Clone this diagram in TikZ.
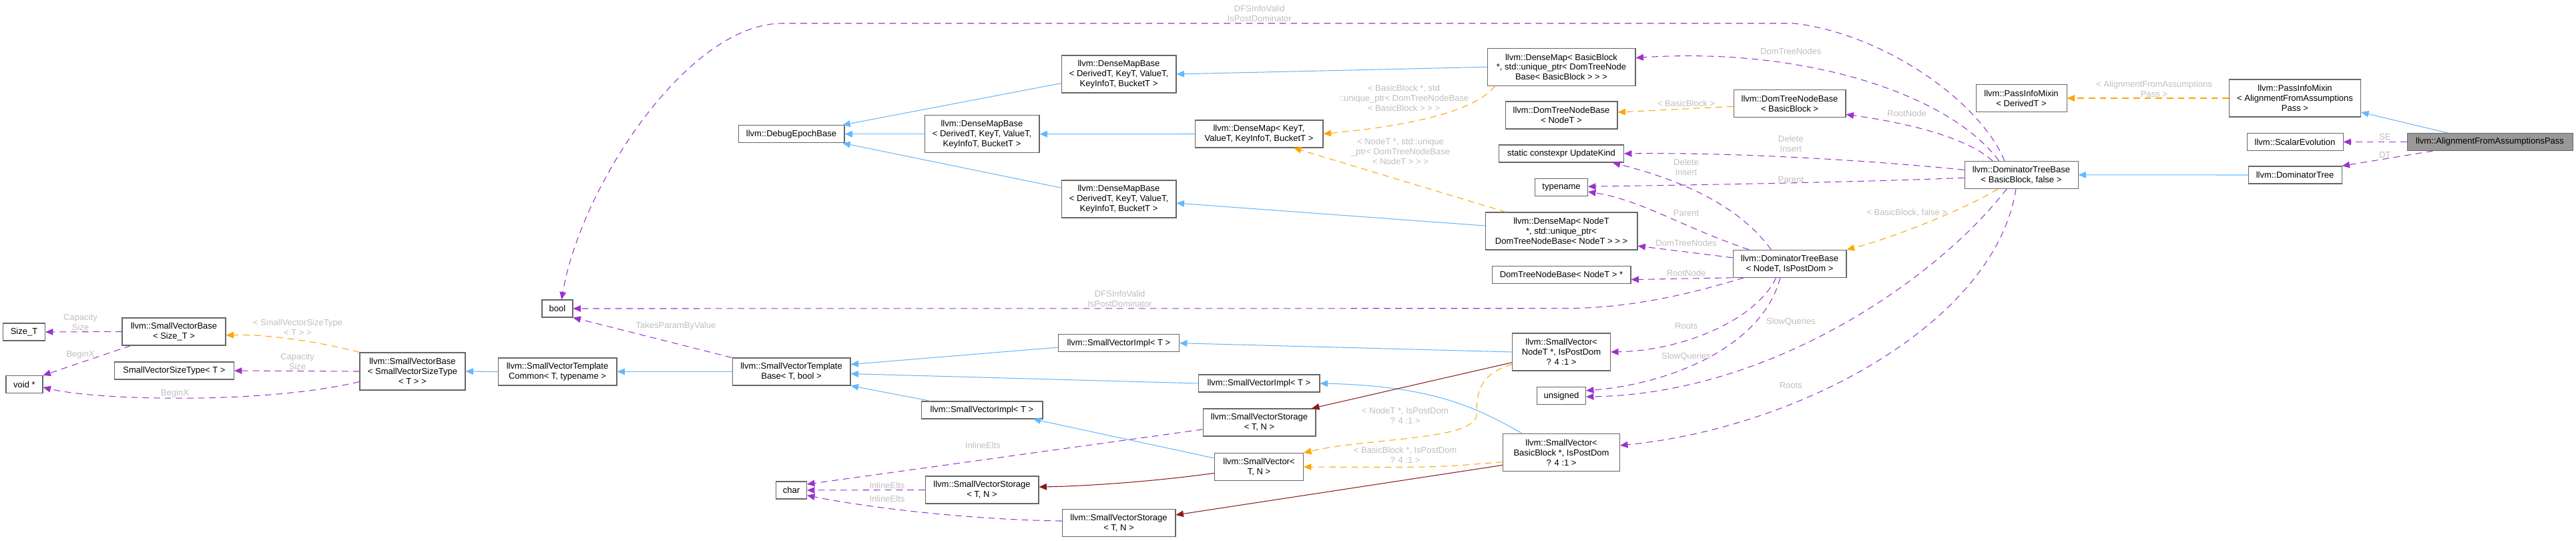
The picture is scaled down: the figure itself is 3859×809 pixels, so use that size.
\documentclass[tikz,border=0pt]{standalone}
\usepackage{fontspec}
\setmainfont{Liberation Sans}
\usetikzlibrary{arrows.meta}

\definecolor{dxinh}{HTML}{63B8FF}
\definecolor{dxpriv}{HTML}{8B1A1A}
\definecolor{dxtmpl}{HTML}{FFA500}
\definecolor{dxuse}{HTML}{9A32CD}
\definecolor{dxedge}{HTML}{666666}
\definecolor{dxlabel}{HTML}{BEBEBE}
\definecolor{dxcur}{HTML}{999999}

\begin{document}
\begin{tikzpicture}[
  x=0.02cm, y=-0.02cm,
  font=\fontsize{7.4}{8.5}\selectfont,
  cls/.style={draw=dxedge, line width=0.6pt, fill=white, inner sep=0pt, align=center},
  cur/.style={cls, fill=dxcur},
  h1/.style={minimum height=0.52cm},
  h2/.style={minimum height=0.82cm},
  h3/.style={minimum height=1.12cm},
  tip/.style={-{Triangle[length=6.5pt,width=5.5pt]}},
  inh/.style={tip, draw=dxinh, line width=0.6pt},
  priv/.style={tip, draw=dxpriv, line width=0.6pt},
  tmpl/.style={tip, draw=dxtmpl, line width=0.6pt, dash pattern=on 5.5pt off 4pt},
  use/.style={tip, draw=dxuse, line width=0.6pt, dash pattern=on 5.5pt off 4pt},
  lbl/.style={text=dxlabel, align=center, inner sep=0pt},
]
  \useasboundingbox (0,0) rectangle (3859,809);

  % small vector base side
  \node[cls, h1, minimum width=1.26cm] (sizet) at (36,497) {Size\_T};
  \node[cls, h1, minimum width=1.10cm] (voidp) at (36.5,575.5) {void *};
  \node[cls, h2, minimum width=3.10cm] (svbsize) at (260.5,496.5) {llvm::SmallVectorBase\\< Size\_T >};
  \node[cls, h1, minimum width=3.58cm] (svstype) at (261,555) {SmallVectorSizeType< T >};
  \node[cls, h3, minimum width=3.16cm] (svbsvst) at (618,556) {llvm::SmallVectorBase\\< SmallVectorSizeType\\< T > >};
  \node[cls, h2, minimum width=3.56cm] (svtc) at (835,556.5) {llvm::SmallVectorTemplate\\Common< T, typename >};
  \node[cls, h1, minimum width=0.92cm] (boolt) at (835,462) {bool};
  \node[cls, h2, minimum width=3.54cm] (svtb) at (1185.5,556.5) {llvm::SmallVectorTemplate\\Base< T, bool >};
  \node[cls, h1, minimum width=0.92cm] (chart) at (1185.5,734) {char};
  \node[cls, h1, minimum width=3.18cm] (debug) at (1185.5,200.7) {llvm::DebugEpochBase};

  % dense maps and small vectors
  \node[cls, h3, minimum width=3.44cm] (dmbtop) at (1676,111) {llvm::DenseMapBase\\< DerivedT, KeyT, ValueT,\\KeyInfoT, BucketT >};
  \node[cls, h3, minimum width=3.44cm] (dmbmid) at (1471,200.7) {llvm::DenseMapBase\\< DerivedT, KeyT, ValueT,\\KeyInfoT, BucketT >};
  \node[cls, h3, minimum width=3.44cm] (dmbbot) at (1676,298) {llvm::DenseMapBase\\< DerivedT, KeyT, ValueT,\\KeyInfoT, BucketT >};
  \node[cls, h2, minimum width=3.84cm] (dmkey) at (1886,200.5) {llvm::DenseMap< KeyT,\\ValueT, KeyInfoT, BucketT >};
  \node[cls, h1, minimum width=3.62cm] (svimtop) at (1676,513.7) {llvm::SmallVectorImpl< T >};
  \node[cls, h1, minimum width=3.64cm] (svimmid) at (1886,574) {llvm::SmallVectorImpl< T >};
  \node[cls, h1, minimum width=3.64cm] (svimlow) at (1471,614) {llvm::SmallVectorImpl< T >};
  \node[cls, h2, minimum width=3.38cm] (svstmid) at (1886.5,632.5) {llvm::SmallVectorStorage\\< T, N >};
  \node[cls, h2, minimum width=2.66cm] (svtn) at (1886,699) {llvm::SmallVector<\\T, N >};
  \node[cls, h2, minimum width=3.40cm] (svstlow) at (1471,733.5) {llvm::SmallVectorStorage\\< T, N >};
  \node[cls, h2, minimum width=3.40cm] (svstbot) at (1676,783) {llvm::SmallVectorStorage\\< T, N >};

  % dominator tree members
  \node[cls, h3, minimum width=4.44cm] (dmbb) at (2339,100.3) {llvm::DenseMap< BasicBlock\\ *, std::unique\_ptr< DomTreeNode\\Base< BasicBlock > > >};
  \node[cls, h2, minimum width=3.36cm] (dtnnode) at (2339,172.5) {llvm::DomTreeNodeBase\\< NodeT >};
  \node[cls, h1, minimum width=3.74cm] (upkind) at (2339,230) {static constexpr UpdateKind};
  \node[cls, h1, minimum width=1.58cm] (typen) at (2339,280.7) {typename};
  \node[cls, h3, minimum width=4.56cm] (dmnode) at (2339,346) {llvm::DenseMap< NodeT\\ *, std::unique\_ptr<\\DomTreeNodeBase< NodeT > > >};
  \node[cls, h1, minimum width=4.16cm] (dtnptr) at (2339,411.3) {DomTreeNodeBase< NodeT > *};
  \node[cls, h3, minimum width=2.94cm] (svnode) at (2339,527) {llvm::SmallVector<\\NodeT *, IsPostDom\\? 4 :1 >};
  \node[cls, h1, minimum width=1.46cm] (unsgn) at (2339,592.7) {unsigned};
  \node[cls, h3, minimum width=3.50cm] (svbb) at (2339,677.7) {llvm::SmallVector<\\BasicBlock *, IsPostDom\\? 4 :1 >};
  \node[cls, h2, minimum width=3.36cm] (dtnbb) at (2681,155) {llvm::DomTreeNodeBase\\< BasicBlock >};
  \node[cls, h2, minimum width=3.40cm] (dtbnode) at (2681,394.8) {llvm::DominatorTreeBase\\< NodeT, IsPostDom >};

  % the pass
  \node[cls, h2, minimum width=3.40cm] (dtbbb) at (3028,261.8) {llvm::DominatorTreeBase\\< BasicBlock, false >};
  \node[cls, h2, minimum width=2.72cm] (pimd) at (3028,147) {llvm::PassInfoMixin\\< DerivedT >};
  \node[cls, h3, minimum width=3.94cm] (pimafap) at (3438,147) {llvm::PassInfoMixin\\< AlignmentFromAssumptions\\Pass >};
  \node[cls, h1, minimum width=2.88cm] (scev) at (3438,212.5) {llvm::ScalarEvolution};
  \node[cls, h1, minimum width=2.80cm] (domtree) at (3438,262) {llvm::DominatorTree};
  \node[cur, h1, minimum width=4.96cm] (afap) at (3730,212.5) {llvm::AlignmentFromAssumptionsPass};

  % inheritance
  \draw[inh] (afap.168) -- (pimafap.-12);
  \draw[inh] (domtree.west) -- (dtbbb.east);
  \draw[inh] (dmbb.west) -- (dmbtop.east);
  \draw[inh] (dmkey.west) -- (dmbmid.east);
  \draw[inh] (dmnode.176) -- (dmbbot.-4);
  \draw[inh] (dmbtop.189) -- (debug.10);
  \draw[inh] (dmbmid.west) -- (debug.east);
  \draw[inh] (dmbbot.169) -- (debug.-10);
  \draw[inh] (svnode.west) -- (svimtop.east);
  \draw[inh] (svbb.154) .. controls (2215,612) and (2150,578) .. (svimmid.east);
  \draw[inh] (svtn.169) -- (svimlow.-10);
  \draw[inh] (svimtop.184) -- (svtb.7);
  \draw[inh] (svimmid.west) -- (svtb.-2);
  \draw[inh] (svimlow.170) -- (svtb.south east);
  \draw[inh] (svtb.west) -- (svtc.east);
  \draw[inh] (svtc.west) -- (svbsvst.east);

  % storage
  \draw[priv] (svnode.192) -- (svstmid.15);
  \draw[priv] (svtn.188) .. controls (1720,722) and (1620,728) .. (svstlow.3);
  \draw[priv] (svbb.192) -- (svstbot.8);

  % template instances
  \draw[tmpl] (pimafap.west) -- (pimd.east);
  \draw[tmpl] (dtbbb.211) .. controls (2950,310) and (2840,355) .. (dtbnode.north east);
  \draw[tmpl] (dtnbb.183) -- (dtnnode.3);
  \draw[tmpl] (dmbb.196) .. controls (2205,172) and (2090,190) .. (dmkey.east);
  \draw[tmpl] (dmnode.161) -- (dmkey.-22);
  \draw[tmpl] (svnode.194) .. controls (2215,560) and (2212,590) .. (2212,620)
    .. controls (2212,660) and (2050,655) .. (svtn.north east);
  \draw[tmpl] (svbb.189) .. controls (2150,700) .. (svtn.east);
  \draw[tmpl] (svbsvst.north west) .. controls (480,512) and (400,500) .. (svbsize.-4);

  % members
  \draw[use] (afap.west) -- (scev.east);
  \draw[use] (afap.189) -- (domtree.north east);
  \draw[use] (dtbbb.140) .. controls (2965,150) and (2820,50) .. (2687,35) -- (1172,35)
    .. controls (1030,35) and (870,280) .. (boolt.65);
  \draw[use] (dtbbb.148) .. controls (2920,140) and (2700,70) .. (dmbb.7);
  \draw[use] (dtbbb.154) .. controls (2940,200) and (2830,180) .. (dtnbb.-11);
  \draw[use] (dtbbb.175) .. controls (2800,240) and (2600,228) .. (upkind.east);
  \draw[use] (dtbbb.183) .. controls (2800,272) and (2600,276) .. (typen.2);
  \draw[use] (dtbbb.224) .. controls (2900,420) and (2650,590) .. (unsgn.-2);
  \draw[use] (dtbbb.249) .. controls (2990,480) and (2700,640) .. (svbb.7);
  \draw[use] (dtbnode.143) .. controls (2600,300) and (2500,265) .. (upkind.-10);
  \draw[use] (dtbnode.161) .. controls (2520,340) and (2460,300) .. (typen.-9);
  \draw[use] (dtbnode.174) -- (dmnode.-11);
  \draw[use] (dtbnode.south west) -- (dtnptr.-4);
  \draw[use] (dtbnode.197) .. controls (2500,450) and (2420,461.7) .. (2340,461.7) -- (boolt.east);
  \draw[use] (dtbnode.226) .. controls (2630,480) and (2520,525) .. (svnode.east);
  \draw[use] (dtbnode.236) .. controls (2640,520) and (2500,575) .. (unsgn.12);
  \draw[use] (svtb.north west) -- (boolt.south east);
  \draw[use] (svbsvst.west) -- (svstype.east);
  \draw[use] (svbsvst.191) .. controls (400,605) and (150,600) .. (voidp.-9);
  \draw[use] (svbsize.west) -- (sizet.east);
  \draw[use] (svbsize.198) -- (voidp.north east);
  \draw[use] (svstmid.187) -- (chart.21);
  \draw[use] (svstlow.west) -- (chart.east);
  \draw[use] (svstbot.178) .. controls (1450,778) and (1300,760) .. (chart.-18);

  % edge labels
  \node[lbl] (lbcap1) at (120.5,482) {Capacity\\Size};
  \node[lbl] (lbbeg1) at (120.5,530.7) {BeginX};
  \node[lbl] (lbsvst) at (446,490.5) {< SmallVectorSizeType\\< T > >};
  \node[lbl] (lbcap2) at (445.5,541) {Capacity\\Size};
  \node[lbl] (lbbeg2) at (262,588.7) {BeginX};
  \node[lbl] (lbtakes) at (1012.5,488) {TakesParamByValue};
  \node[lbl] (lbdfs1) at (1886.7,20.8) {DFSInfoValid\\IsPostDominator};
  \node[lbl] (lbdfs2) at (1677.6,447) {DFSInfoValid\\IsPostDominator};
  \node[lbl] (lbdmbb) at (2103,146.7) {< BasicBlock *, std\\::unique\_ptr< DomTreeNodeBase\\< BasicBlock > > >};
  \node[lbl] (lbdmnode) at (2098,226.7) {< NodeT *, std::unique\\\_ptr< DomTreeNodeBase\\< NodeT > > >};
  \node[lbl] (lbinl1) at (1472.5,666.7) {InlineElts};
  \node[lbl] (lbinl2) at (1329,726.7) {InlineElts};
  \node[lbl] (lbinl3) at (1329,746.7) {InlineElts};
  \node[lbl] (lbsvnode) at (2105,622.5) {< NodeT *, IsPostDom\\? 4 :1 >};
  \node[lbl] (lbsvbb) at (2105,681.5) {< BasicBlock *, IsPostDom\\? 4 :1 >};
  \node[lbl] (lbnodes1) at (2682.7,76.7) {DomTreeNodes};
  \node[lbl] (lbdtn) at (2526,154.7) {< BasicBlock >};
  \node[lbl] (lbroot1) at (2856.6,169.7) {RootNode};
  \node[lbl] (lbdel1) at (2682.7,215.2) {Delete\\Insert};
  \node[lbl] (lbdel2) at (2526,250.2) {Delete\\Insert};
  \node[lbl] (lbpar1) at (2682.7,268.7) {Parent};
  \node[lbl] (lbpar2) at (2526,318.7) {Parent};
  \node[lbl] (lbdtb) at (2856.7,318.3) {< BasicBlock, false >};
  \node[lbl] (lbnodes2) at (2526,364.3) {DomTreeNodes};
  \node[lbl] (lbroot2) at (2526,409.3) {RootNode};
  \node[lbl] (lbroots1) at (2526,488.3) {Roots};
  \node[lbl] (lbslow1) at (2682.7,482.3) {SlowQueries};
  \node[lbl] (lbslow2) at (2526,534.3) {SlowQueries};
  \node[lbl] (lbroots2) at (2682.7,576.7) {Roots};
  \node[lbl] (lbpim) at (3227,133.3) {< AlignmentFromAssumptions\\Pass >};
  \node[lbl] (lbse) at (3572.7,205) {SE};
  \node[lbl] (lbdt) at (3572.7,232.3) {DT};
\end{tikzpicture}
\end{document}
